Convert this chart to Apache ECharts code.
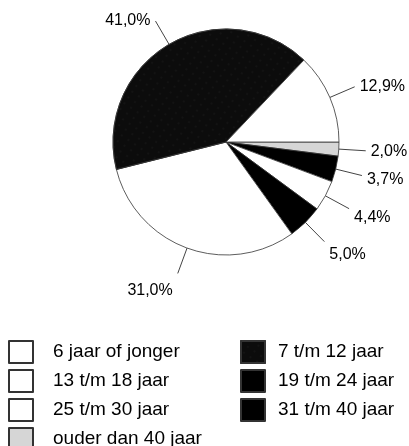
<!DOCTYPE html>
<html>
<head>
<meta charset="utf-8">
<script src="https://cdn.jsdelivr.net/npm/echarts@6/dist/echarts.min.js"></script>
<style>
	html, body { margin: 0; padding: 0; background: #fff; }
	#chart { width: 409px; height: 446px; }
</style>
</head>
<body>
<div id="chart"></div>
<script>
// slices in drawing order, clockwise from 3 o'clock
var categories = ['ouder dan 40 jaar', '31 t/m 40 jaar', '25 t/m 30 jaar', '19 t/m 24 jaar', '6 jaar of jonger', '7 t/m 12 jaar', '13 t/m 18 jaar'];
var values = [2.0, 3.7, 4.4, 5.0, 31.0, 41.0, 12.9];
var fills = ['#d6d6d6', '#000000', '#ffffff', '#000000', '#ffffff', '#0c0c0c', '#ffffff'];

// legend columns as in the picture
var legendLeft = ['6 jaar of jonger', '13 t/m 18 jaar', '25 t/m 30 jaar', 'ouder dan 40 jaar'];
var legendRight = ['7 t/m 12 jaar', '19 t/m 24 jaar', '31 t/m 40 jaar'];

window.onload = function () {
	var myChart = echarts.init(document.getElementById('chart'));

	var pieData = categories.map(function (name, i) {
		var item = {
			name: name,
			value: values[i],
			itemStyle: { color: fills[i] }
		};
		if (name == '7 t/m 12 jaar') {
			item.itemStyle.decal = {
				symbol: 'rect',
				symbolSize: 0.3,
				color: 'rgba(255,255,255,0.4)',
				dashArrayX: [2, 6],
				dashArrayY: [2, 5],
				rotation: 0.6
			};
		}
		return item;
	});

	var legendText = {
		color: '#000',
		fontFamily: 'Liberation Sans, Arial, sans-serif',
		fontSize: 19,
		lineHeight: 22
	};

	var option = {
		backgroundColor: '#fff',
		animation: false,
		legend: [{
			orient: 'vertical',
			left: 8,
			top: 340,
			height: 130,
			padding: 0,
			itemWidth: 24,
			itemHeight: 22,
			itemGap: 5,
			icon: 'rect',
			textStyle: Object.assign({ padding: [0, 0, 0, 15] }, legendText),
			data: legendLeft
		}, {
			orient: 'vertical',
			left: 240,
			top: 340,
			height: 130,
			padding: 0,
			itemWidth: 24,
			itemHeight: 22,
			itemGap: 5,
			icon: 'rect',
			textStyle: Object.assign({ padding: [0, 0, 0, 8] }, legendText),
			data: legendRight
		}],
		series: [{
			type: 'pie',
			center: [226, 142],
			radius: 113,
			startAngle: 0,
			clockwise: true,
			avoidLabelOverlap: false,
			itemStyle: {
				borderColor: '#333',
				borderWidth: 0.8
			},
			label: {
				show: true,
				position: 'outside',
				color: '#000',
				fontFamily: 'Liberation Sans, Arial, sans-serif',
				fontSize: 16,
				formatter: function (p) {
					return p.value.toFixed(1).replace('.', ',') + '%';
				}
			},
			labelLine: {
				show: true,
				length: 27,
				length2: 0,
				lineStyle: { color: '#444', width: 1 }
			},
			labelLayout: function (p) {
				var pts = p.labelLinePoints;
				if (!pts) return {};
				var dx = pts[pts.length - 1][0] - pts[0][0];
				var dy = pts[pts.length - 1][1] - pts[0][1];
				var s = dy / Math.sqrt(dx * dx + dy * dy);
				return { dy: s > 0 ? s * 18 : 0 };
			},
			emphasis: { disabled: true },
			data: pieData
		}]
	};

	myChart.setOption(option);
}
</script>
</body>
</html>
